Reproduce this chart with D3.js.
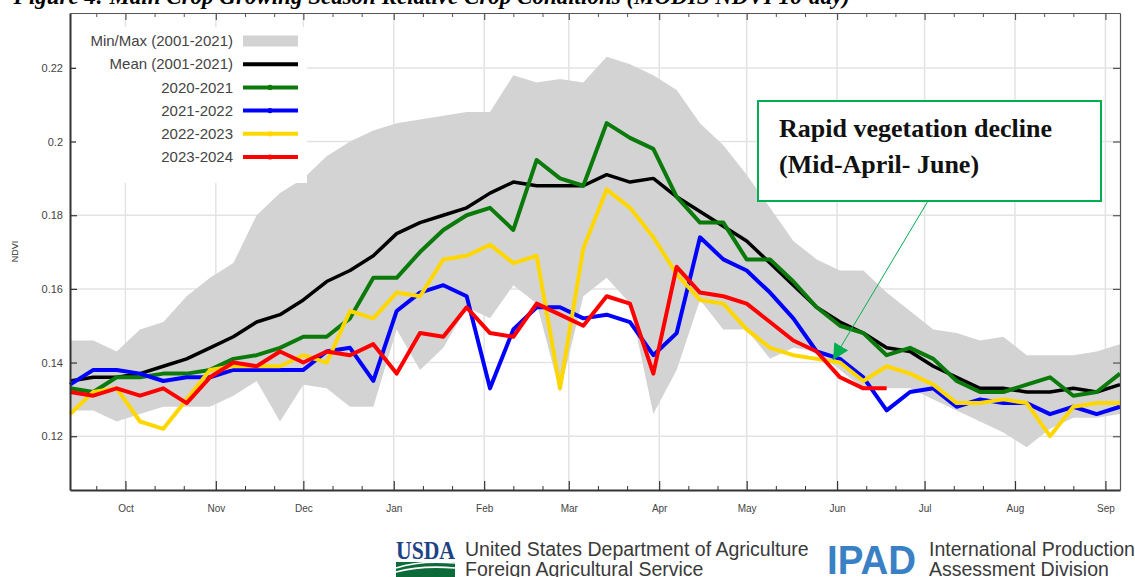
<!DOCTYPE html>
<meta charset="utf-8">
<style>

body {
  margin: 0;
  background: #fff;
}

svg {
  display: block;
  font-family: "Liberation Sans", Arial, sans-serif;
}

.grid line {
  stroke: #e3e3e3;
  stroke-width: 1.5px;
}

.band {
  fill: #d3d3d3;
}

.series {
  fill: none;
  stroke-width: 4px;
  stroke-linejoin: round;
}

.axis text {
  fill: #444;
}

.legend text {
  fill: #444;
  font-size: 15px;
  text-anchor: end;
}

.note {
  font-family: "Liberation Serif", "Times New Roman", serif;
  font-weight: bold;
  font-size: 26px;
  fill: #111;
}

.footer {
  fill: #3a3a3a;
  font-size: 19.5px;
}

</style>
<svg width="1135" height="577"></svg>
<script src="https://d3js.org/d3.v7.min.js"></script>
<script>

// 8-day composite periods
var periods = [
  "2023-09-12", "2023-09-20", "2023-09-28", "2023-10-06", "2023-10-14", "2023-10-22",
  "2023-10-30", "2023-11-07", "2023-11-15", "2023-11-23", "2023-12-01", "2023-12-09",
  "2023-12-17", "2023-12-25", "2024-01-02", "2024-01-10", "2024-01-18", "2024-01-26",
  "2024-02-03", "2024-02-11", "2024-02-19", "2024-02-27", "2024-03-06", "2024-03-14",
  "2024-03-22", "2024-03-30", "2024-04-07", "2024-04-15", "2024-04-23", "2024-05-01",
  "2024-05-09", "2024-05-17", "2024-05-25", "2024-06-02", "2024-06-10", "2024-06-18",
  "2024-06-26", "2024-07-04", "2024-07-12", "2024-07-20", "2024-07-28", "2024-08-05",
  "2024-08-13", "2024-08-21", "2024-08-29", "2024-09-06"
];

var minNdvi = [0.127, 0.127, 0.124, 0.126, 0.128, 0.128, 0.128, 0.131, 0.135, 0.124, 0.134, 0.133,
  0.128, 0.128, 0.149, 0.138, 0.144, 0.155, 0.152, 0.161, 0.156, 0.132, 0.158, 0.163,
  0.156, 0.126, 0.138, 0.157, 0.149, 0.149, 0.141, 0.144, 0.143, 0.138, 0.133, 0.133,
  0.133, 0.130, 0.127, 0.124, 0.121, 0.117, 0.122, 0.125, 0.125, 0.126];

var maxNdvi = [0.146, 0.146, 0.143, 0.149, 0.151, 0.158, 0.163, 0.167, 0.180, 0.186, 0.190, 0.196,
  0.200, 0.203, 0.205, 0.206, 0.207, 0.208, 0.208, 0.218, 0.216, 0.217, 0.216, 0.223,
  0.221, 0.218, 0.214, 0.205, 0.199, 0.191, 0.182, 0.173, 0.168, 0.165, 0.165, 0.159,
  0.154, 0.149, 0.148, 0.146, 0.147, 0.142, 0.142, 0.142, 0.143, 0.145];

var meanNdvi = [0.135, 0.136, 0.136, 0.137, 0.139, 0.141, 0.144, 0.147, 0.151, 0.153, 0.157, 0.162,
  0.165, 0.169, 0.175, 0.178, 0.180, 0.182, 0.186, 0.189, 0.188, 0.188, 0.188, 0.191,
  0.189, 0.190, 0.185, 0.181, 0.177, 0.173, 0.167, 0.161, 0.155, 0.151, 0.148, 0.144,
  0.143, 0.139, 0.136, 0.133, 0.133, 0.132, 0.132, 0.133, 0.132, 0.134];

var ndvi2021 = [0.133, 0.132, 0.136, 0.136, 0.137, 0.137, 0.138, 0.141, 0.142, 0.144, 0.147, 0.147,
  0.152, 0.163, 0.163, 0.170, 0.176, 0.180, 0.182, 0.176, 0.195, 0.190, 0.188, 0.205,
  0.201, 0.198, 0.185, 0.178, 0.178, 0.168, 0.168, 0.162, 0.155, 0.150, 0.148, 0.142,
  0.144, 0.141, 0.135, 0.132, 0.132, 0.134, 0.136, 0.131, 0.132, 0.137];

var ndvi2022 = [0.134, 0.138, 0.138, 0.137, 0.135, 0.136, 0.136, 0.138, 0.138, 0.138, 0.138, 0.143,
  0.144, 0.135, 0.154, 0.159, 0.161, 0.158, 0.133, 0.149, 0.155, 0.155, 0.152, 0.153,
  0.151, 0.142, 0.148, 0.174, 0.168, 0.165, 0.159, 0.152, 0.143, 0.141, 0.136, 0.127,
  0.132, 0.133, 0.128, 0.130, 0.129, 0.129, 0.126, 0.128, 0.126, 0.128];

var ndvi2023 = [0.126, 0.132, 0.133, 0.124, 0.122, 0.130, 0.138, 0.139, 0.139, 0.139, 0.142, 0.140,
  0.154, 0.152, 0.159, 0.158, 0.168, 0.169, 0.172, 0.167, 0.169, 0.133, 0.171, 0.187,
  0.182, 0.174, 0.164, 0.157, 0.156, 0.149, 0.144, 0.142, 0.141, 0.140, 0.135, 0.139,
  0.137, 0.134, 0.129, 0.129, 0.130, 0.129, 0.120, 0.128, 0.129, 0.129];

var ndvi2024 = [0.132, 0.131, 0.133, 0.131, 0.133, 0.129, 0.136, 0.140, 0.139, 0.143, 0.140, 0.143,
  0.142, 0.145, 0.137, 0.148, 0.147, 0.155, 0.148, 0.147, 0.156, 0.153, 0.150, 0.158,
  0.156, 0.137, 0.166, 0.159, 0.158, 0.156, 0.151, 0.146, 0.143, 0.136, 0.133, 0.133];

var yTicks = [0.12, 0.14, 0.16, 0.18, 0.2, 0.22];

var seriesLabels = ["Mean (2001-2021)", "2020-2021", "2021-2022", "2022-2023", "2023-2024"];
var seriesValues = [meanNdvi, ndvi2021, ndvi2022, ndvi2023, ndvi2024];
var seriesColors = ["#000000", "#0a7a0a", "#0000ff", "#ffd700", "#ff0000"];
var bandLabel = "Min/Max (2001-2021)";

var titleText = "Figure 4: Main Crop Growing Season Relative Crop Conditions (MODIS NDVI 16-day)";
var noteLines = ["Rapid vegetation decline", "(Mid-April- June)"];

var svg = d3.select("svg"),
    margin = {top: 13, right: 15, bottom: 87, left: 70},
    width = +svg.attr("width"),
    height = +svg.attr("height"),
    x0 = margin.left, x1 = width - margin.right,
    y0 = margin.top, y1 = height - margin.bottom;

var parse = d3.utcParse("%Y-%m-%d");
var dates = periods.map(parse);

var x = d3.scaleUtc()
    .domain([dates[0], dates[dates.length - 1]])
    .range([x0, x1]);

var y = d3.scaleLinear()
    .domain([0.1054, 0.2349])
    .range([y1, y0]);

var months = d3.utcMonth.range(d3.utcMonth.ceil(x.domain()[0]), x.domain()[1]);
var minorDays = d3.utcDay.every(10).range(x.domain()[0], x.domain()[1])
    .filter(function(d) { var k = d.getUTCDate(); return k === 11 || k === 21; });

// title line, cut at the top of the picture
svg.append("text")
    .attr("x", 850)
    .attr("y", 4)
    .attr("text-anchor", "end")
    .style("font-family", "'Liberation Serif', 'Times New Roman', serif")
    .style("font-weight", "bold")
    .style("font-style", "italic")
    .style("font-size", "23px")
    .text(titleText);

// grid
var grid = svg.append("g").attr("class", "grid");
grid.selectAll(".gy")
    .data(yTicks)
  .enter().append("line")
    .attr("x1", x0).attr("x2", x1)
    .attr("y1", y).attr("y2", y);
grid.selectAll(".gx")
    .data(months)
  .enter().append("line")
    .attr("x1", x).attr("x2", x)
    .attr("y1", y0).attr("y2", y1);

// min/max band
var area = d3.area()
    .x(function(d, i) { return x(dates[i]); })
    .y0(function(d, i) { return y(minNdvi[i]); })
    .y1(function(d, i) { return y(maxNdvi[i]); });

svg.append("path")
    .datum(dates)
    .attr("class", "band")
    .attr("d", area);

var line = d3.line()
    .x(function(d, i) { return x(dates[i]); })
    .y(function(d) { return y(d); });

svg.selectAll(".series")
    .data(seriesValues)
  .enter().append("path")
    .attr("class", "series")
    .attr("stroke", function(d, i) { return seriesColors[i]; })
    .style("stroke-width", function(d, i) { return i === 0 ? "3.5px" : "4px"; })
    .attr("d", line);

// axes
function styleAxis(g, w, c) {
  g.select(".domain").attr("stroke", c).attr("stroke-width", w);
  g.selectAll(".tick line").attr("stroke", c).attr("stroke-width", 1.2);
}

svg.append("g")
    .attr("class", "axis")
    .attr("transform", "translate(0," + y1 + ")")
    .call(d3.axisBottom(x).tickValues(months).tickFormat(d3.utcFormat("%b"))
      .tickSizeInner(-9).tickSizeOuter(0).tickPadding(15))
    .call(styleAxis, 2, "#333")
    .call(function(g) { g.selectAll("text").style("font-size", "10px").attr("fill", "#555"); });

svg.append("g")
    .attr("transform", "translate(0," + y1 + ")")
    .call(d3.axisBottom(x).tickValues(minorDays).tickFormat("").tickSizeInner(-4).tickSizeOuter(0))
    .call(function(g) { g.select(".domain").remove(); g.selectAll("line").attr("stroke", "#333"); });

svg.append("g")
    .attr("transform", "translate(0," + y0 + ")")
    .call(d3.axisTop(x).tickValues(months).tickFormat("").tickSizeInner(-7).tickSizeOuter(0))
    .call(styleAxis, 1.2, "#555");

svg.append("g")
    .attr("transform", "translate(0," + y0 + ")")
    .call(d3.axisTop(x).tickValues(minorDays).tickFormat("").tickSizeInner(-4).tickSizeOuter(0))
    .call(function(g) { g.select(".domain").remove(); g.selectAll("line").attr("stroke", "#555"); });

svg.append("g")
    .attr("class", "axis")
    .attr("transform", "translate(" + x0 + ",0)")
    .call(d3.axisLeft(y).tickValues(yTicks).tickFormat(function(d) { return String(d); })
      .tickSizeInner(-7).tickSizeOuter(0).tickPadding(7))
    .call(styleAxis, 2, "#333")
    .call(function(g) { g.selectAll("text").style("font-size", "11px"); });

svg.append("g")
    .attr("transform", "translate(" + x1 + ",0)")
    .call(d3.axisRight(y).tickValues(yTicks).tickFormat("").tickSizeInner(-7).tickSizeOuter(0))
    .call(styleAxis, 1.2, "#555");

svg.append("text")
    .attr("transform", "translate(18," + (y0 + y1) / 2 + ")rotate(-90)")
    .attr("text-anchor", "middle")
    .style("font-size", "9px")
    .attr("fill", "#333")
    .text("NDVI");

// legend
var legend = svg.append("g").attr("class", "legend");

legend.append("rect")
    .attr("x", 76).attr("y", 27)
    .attr("width", 231).attr("height", 156)
    .attr("fill", "#fff");

var rowY = function(i) { return 41 + i * 23.2; };

legend.append("text")
    .attr("x", 233).attr("y", rowY(0)).attr("dy", "0.35em")
    .text(bandLabel);
legend.append("rect")
    .attr("x", 243).attr("y", rowY(0) - 5.5)
    .attr("width", 55).attr("height", 11)
    .attr("class", "band");

var rows = legend.selectAll(".row")
    .data(seriesLabels)
  .enter().append("g")
    .attr("transform", function(d, i) { return "translate(0," + rowY(i + 1) + ")"; });

rows.append("text")
    .attr("x", 233).attr("dy", "0.35em")
    .text(function(d) { return d; });
rows.append("line")
    .attr("x1", 243).attr("x2", 298)
    .attr("stroke", function(d, i) { return seriesColors[i]; })
    .attr("stroke-width", 4);
rows.filter(function(d, i) { return i > 0; }).append("circle")
    .attr("cx", 270).attr("r", 2.6)
    .attr("fill", function(d) { return seriesColors[seriesLabels.indexOf(d)]; });

// annotation
var noteColor = "#00b050";

svg.append("defs").append("marker")
    .attr("id", "arrow")
    .attr("viewBox", "0 0 10 10")
    .attr("refX", 10).attr("refY", 5)
    .attr("markerWidth", 16).attr("markerHeight", 16)
    .attr("markerUnits", "userSpaceOnUse")
    .attr("orient", "auto")
  .append("path")
    .attr("d", "M0,0L10,5L0,10z")
    .attr("fill", noteColor);

svg.append("line")
    .attr("x1", 928).attr("y1", 201)
    .attr("x2", 833).attr("y2", 360)
    .attr("stroke", noteColor)
    .attr("stroke-width", 1)
    .attr("marker-end", "url(#arrow)");

svg.append("rect")
    .attr("x", 758).attr("y", 101)
    .attr("width", 343).attr("height", 100)
    .attr("fill", "#fff")
    .attr("stroke", noteColor)
    .attr("stroke-width", 2);

svg.selectAll(".note")
    .data(noteLines)
  .enter().append("text")
    .attr("class", "note")
    .attr("x", 779)
    .attr("y", function(d, i) { return 137 + i * 36; })
    .text(function(d) { return d; });

// footer logos
var usda = svg.append("g");
usda.append("text")
    .attr("x", 396).attr("y", 559)
    .attr("textLength", 59).attr("lengthAdjust", "spacingAndGlyphs")
    .style("font-family", "'Liberation Serif', serif")
    .style("font-weight", "bold")
    .style("font-size", "25px")
    .attr("fill", "#1d4384")
    .text("USDA");
usda.append("rect")
    .attr("x", 396).attr("y", 562)
    .attr("width", 59).attr("height", 15)
    .attr("fill", "#0d6b3a");
usda.append("path")
    .attr("d", "M396,568 Q420,560 455,563 M396,572 Q422,565 455,568")
    .attr("fill", "none")
    .attr("stroke", "#fff")
    .attr("stroke-width", 1.6);

svg.append("text").attr("class", "footer")
    .attr("x", 465).attr("y", 556)
    .text("United States Department of Agriculture");
svg.append("text").attr("class", "footer")
    .attr("x", 465).attr("y", 576)
    .text("Foreign Agricultural Service");

svg.append("text")
    .attr("x", 827).attr("y", 574)
    .attr("textLength", 89).attr("lengthAdjust", "spacingAndGlyphs")
    .style("font-weight", "bold")
    .style("font-size", "41px")
    .attr("fill", "#3a80c4")
    .text("IPAD");
svg.append("text").attr("class", "footer")
    .attr("x", 929).attr("y", 556)
    .text("International Production");
svg.append("text").attr("class", "footer")
    .attr("x", 929).attr("y", 576)
    .text("Assessment Division");

</script>
